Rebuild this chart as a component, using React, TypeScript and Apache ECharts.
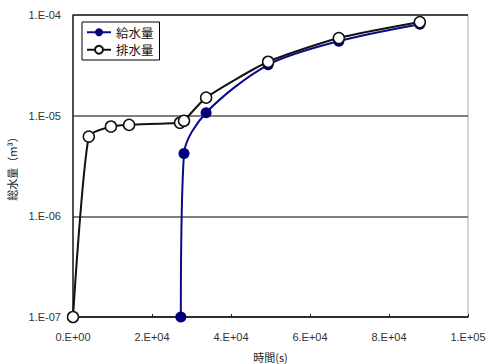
import React, { useEffect, useRef } from "react";
import * as echarts from "echarts";

const supplyTime = [27300, 28100, 33700, 49400, 67300, 87800];
const supplyVolume = [1e-7, 4.2e-6, 1.07e-5, 3.2e-5, 5.5e-5, 8.1e-5];
const drainTime = [0, 4000, 9600, 14200, 27100, 28100, 33700, 49400, 67300, 87800];
const drainVolume = [1e-7, 6.2e-6, 7.8e-6, 8.1e-6, 8.5e-6, 8.9e-6, 1.51e-5, 3.43e-5, 5.9e-5, 8.5e-5];
const seriesNames = ["給水量", "排水量"];
const xAxisName = "時間(s)";
const yAxisName = "総水量（m³）";

const pad2 = (n: number) => String(n).padStart(2, "0");
const fmtX = (v: number) => {
  if (v === 0) return "0.E+00";
  const e = Math.floor(Math.log10(v) + 1e-9);
  const m = Math.round(v / Math.pow(10, e));
  return `${m}.E+${pad2(e)}`;
};
const fmtY = (v: number) => {
  const e = Math.round(Math.log10(v));
  return e < 0 ? `1.E-${pad2(-e)}` : `1.E+${pad2(e)}`;
};

export default function App() {
  const ref = useRef<HTMLDivElement>(null);
  useEffect(() => {
    if (!ref.current) return;
    const chart = echarts.init(ref.current, undefined, { renderer: "svg" });
    const font = "'Liberation Sans', Arial, sans-serif";
    const cjk = "'Noto Sans CJK JP', sans-serif";
    chart.setOption({
      animation: false,
      backgroundColor: "#fff",
      grid: {
        left: 73,
        top: 15,
        right: 20,
        bottom: 47,
        outerBoundsMode: "none",
        containLabel: false,
        show: true,
        borderColor: "#aaa",
        borderWidth: 1,
      },
      legend: {
        left: 82,
        top: 22,
        orient: "vertical",
        borderColor: "#000",
        borderWidth: 1,
        padding: [4, 6, 4, 4],
        itemGap: 5,
        itemWidth: 24,
        itemHeight: 10,
        textStyle: { fontFamily: cjk, fontSize: 12.5, color: "#111" },
        data: seriesNames,
      },
      xAxis: {
        type: "value",
        min: 0,
        max: 100000,
        interval: 20000,
        name: xAxisName,
        nameLocation: "middle",
        nameGap: 34,
        nameTextStyle: { fontFamily: cjk, fontSize: 11, color: "#222" },
        axisLine: { lineStyle: { color: "#222", width: 1.5 } },
        axisTick: { inside: true, length: 3, lineStyle: { color: "#222" } },
        axisLabel: { formatter: fmtX, fontFamily: font, fontSize: 11, color: "#333", margin: 14 },
        splitLine: { show: false },
      },
      yAxis: {
        type: "log",
        logBase: 10,
        min: 1e-7,
        max: 1e-4,
        name: yAxisName,
        nameLocation: "middle",
        nameRotate: 90,
        nameGap: 54,
        nameTextStyle: { fontFamily: cjk, fontSize: 11, color: "#222" },
        axisLine: { lineStyle: { color: "#222", width: 1.5 } },
        axisTick: { show: false },
        axisLabel: { formatter: fmtY, fontFamily: font, fontSize: 11, color: "#333", margin: 12 },
        splitLine: { show: true, lineStyle: { color: ["#222", "#555", "#555", "#b0b0b0"], width: 1.5 } },
      },
      series: [
        {
          name: seriesNames[0],
          type: "line",
          data: supplyTime.map((t, i) => [t, supplyVolume[i]]),
          smooth: 0.3,
          symbol: "circle",
          symbolSize: 11,
          itemStyle: { color: "#00007a" },
          lineStyle: { color: "#0a0a8a", width: 2 },
          z: 2,
        },
        {
          name: seriesNames[1],
          type: "line",
          data: drainTime.map((t, i) => [t, drainVolume[i]]),
          smooth: 0.2,
          symbol: "circle",
          symbolSize: 11,
          itemStyle: { color: "#fff", borderColor: "#111", borderWidth: 1.5 },
          lineStyle: { color: "#111", width: 2 },
          z: 3,
        },
      ],
    });
    return () => chart.dispose();
  }, []);
  return (
    <div
      ref={ref}
      style={{ position: "fixed", left: 0, top: 0, width: 488, height: 364 }}
    />
  );
}
